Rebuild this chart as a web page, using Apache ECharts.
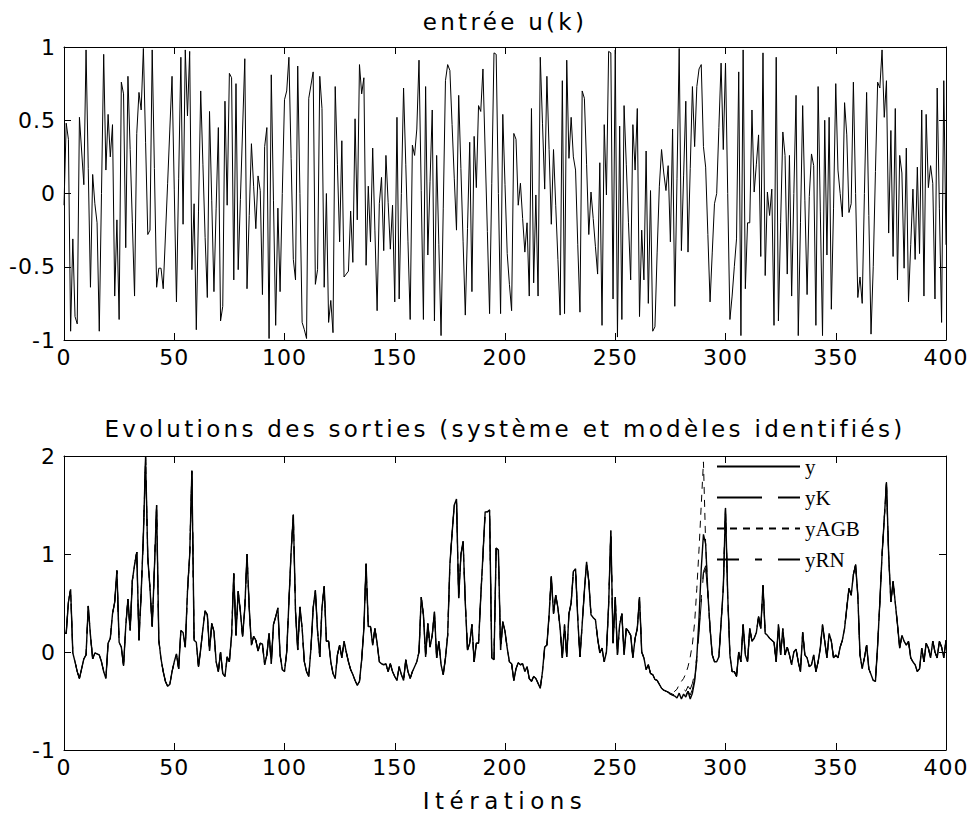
<!DOCTYPE html>
<html>
<head>
<meta charset="utf-8">
<script src="https://cdn.jsdelivr.net/npm/echarts@6/dist/echarts.min.js"></script>
<style>
  html, body { margin: 0; background: #fff; }
  #chart { width: 972px; height: 822px; }
</style>
</head>
<body>
<div id="chart"></div>
<script>
// entrée u(k), k = 0..400
const uk = [
  -0.08,0.48,0.37,-0.94,-0.31,-0.84,-0.89,0.52,0.29,0.06,
  0.98,0.17,-0.64,0.13,-0.07,-0.2,-0.94,0.0,0.95,0.16,
  0.54,0.25,0.47,-0.7,-0.18,-0.86,0.76,0.68,-0.37,0.8,
  0.3,-0.2,-0.7,0.41,0.69,0.57,0.99,0.35,-0.28,-0.25,
  0.98,0.17,-0.64,-0.51,-0.51,-0.65,-0.29,0.07,0.44,0.8,
  0.03,-0.74,0.1,0.93,-0.21,0.98,0.53,0.97,-0.52,-0.07,
  -0.93,-0.12,0.7,0.2,-0.3,-0.71,0.56,-0.05,-0.67,-0.1,
  0.45,-0.87,-0.77,0.63,-0.08,0.82,0.79,-0.59,0.75,-0.52,
  -0.04,0.44,0.92,-0.65,-0.15,0.34,0.05,-0.24,0.12,0.02,
  -0.69,0.32,0.45,-0.99,0.81,-0.05,-0.9,-0.1,-0.67,0.0,
  0.64,0.7,0.93,0.24,-0.45,-0.59,0.87,0.0,-0.88,-0.93,
  -0.99,0.65,0.74,0.83,-0.62,-0.52,0.8,0.58,-0.64,0.0,
  -0.88,-0.73,-0.95,0.73,0.2,-0.33,0.36,-0.57,-0.55,-0.53,
  -0.12,-0.47,0.51,-0.18,0.88,0.68,0.79,-0.49,0.05,-0.33,
  0.31,-0.25,-0.8,-0.07,0.11,-0.39,0.26,-0.06,-0.38,-0.08,
  -0.74,0.52,-0.72,0.0,0.72,0.2,-0.33,-0.86,0.33,0.26,
  0.44,0.91,0.02,-0.86,0.73,-0.42,0.08,0.57,-0.87,0.26,
  -0.35,-0.97,-0.1,0.77,0.88,0.84,0.47,0.1,-0.25,0.67,
  0.17,-0.33,-0.83,-0.24,0.35,-0.67,0.39,0.04,0.6,0.56,
  0.85,0.29,-0.26,-0.82,0.07,0.96,0.95,0.0,-0.82,0.54,
  0.06,-0.41,-0.62,-0.8,0.41,0.37,-0.08,0.07,-0.17,-0.4,
  -0.2,-0.7,0.58,-0.61,-0.01,-0.7,0.93,0.48,0.03,0.8,
  0.3,-0.21,0.3,-0.08,-0.45,-0.83,0.77,-0.82,0.91,0.24,
  0.52,0.25,0.16,-0.35,-0.81,0.7,0.65,0.2,-0.28,0.01,
  -0.17,-0.36,-0.55,0.21,-0.9,0.47,-0.01,0.97,0.96,-0.72,
  0.98,-0.98,0.46,-0.86,0.6,0.2,-0.2,-0.59,0.47,0.16,
  0.58,-0.84,-0.25,-0.59,0.29,-0.75,0.02,-0.94,-0.91,-0.4,
  0.05,0.3,0.14,0.02,0.19,-0.33,0.44,-0.77,0.1,0.99,
  -0.39,0.12,0.63,-0.4,0.17,0.73,0.32,0.73,0.85,0.88,
  0.32,0.18,-0.28,-0.74,-0.4,-0.07,0.0,0.45,0.89,0.3,
  0.89,0.0,-0.86,-0.7,-0.5,-0.31,0.83,-0.97,0.98,-0.65,
  -0.2,-0.2,0.57,0.01,0.2,0.4,-0.43,0.96,-0.56,0.01,
  -0.15,0.03,-0.9,0.93,-0.87,-0.2,0.42,0.26,-0.55,0.26,
  -0.7,0.0,0.67,-0.97,-0.2,0.6,-0.05,-0.69,-0.02,0.27,
  0.19,-0.9,0.73,-0.12,-0.97,0.5,-0.42,0.52,-0.79,-0.1,
  0.75,0.16,0.0,-0.16,0.62,0.4,-0.13,-0.07,0.76,0.0,
  -0.71,-0.57,-0.75,0.0,0.69,-0.15,-0.96,-0.5,0.15,0.76,
  0.72,0.98,0.52,0.77,-0.27,0.43,-0.43,0.58,-0.59,0.26,
  0.14,-0.51,0.31,-0.74,-0.35,0.03,-0.45,0.18,-0.41,0.57,
  -0.7,0.54,0.04,0.19,0.07,-0.72,0.72,-0.1,-0.88,0.77,
  -0.35
];

// sortie du système y(k), k = 0..400
const ySys = [
  0.19,0.19,0.51,0.64,-0.01,-0.1,-0.2,-0.27,-0.17,-0.07,
  -0.03,0.47,0.17,-0.07,-0.01,-0.02,-0.03,-0.1,-0.2,-0.27,
  0.09,0.14,0.39,0.51,0.83,0.1,0.05,-0.14,0.26,0.54,
  0.22,0.73,0.89,1.02,0.12,0.6,1.19,1.99,0.96,0.65,
  0.26,0.85,1.5,0.12,-0.07,-0.2,-0.3,-0.35,-0.33,-0.2,
  -0.1,-0.02,-0.17,0.22,0.2,0.05,0.62,0.99,1.85,0.12,
  0.1,-0.15,0.03,0.24,0.42,0.38,0.01,0.29,0.21,-0.1,
  -0.2,0.0,-0.22,-0.25,-0.05,-0.1,0.17,0.8,0.17,0.62,
  0.41,0.16,0.45,1.0,0.45,0.07,0.16,0.12,0.01,0.09,
  0.08,-0.13,-0.03,0.19,-0.12,0.28,0.36,0.45,-0.03,-0.18,
  -0.2,0.0,0.51,1.02,1.4,0.41,0.02,0.46,0.24,-0.1,
  -0.2,-0.25,0.04,0.45,0.63,0.21,-0.05,0.45,0.67,0.11,
  0.11,-0.1,-0.22,-0.27,-0.03,0.07,-0.06,0.11,0.0,-0.1,
  -0.18,-0.23,-0.29,-0.34,-0.3,-0.08,0.24,0.9,0.26,0.26,
  0.07,0.24,0.09,-0.1,-0.12,-0.13,-0.12,-0.2,-0.12,-0.2,
  -0.25,-0.29,-0.15,-0.23,-0.29,-0.08,-0.2,-0.27,-0.2,-0.15,
  -0.1,0.0,0.56,0.38,-0.05,0.29,0.05,0.17,0.41,-0.06,
  0.11,-0.13,-0.23,-0.06,0.17,0.89,1.21,1.5,1.56,0.55,
  0.99,1.13,0.5,0.02,0.09,0.28,-0.1,0.09,0.09,0.56,
  0.99,1.43,1.43,1.45,-0.06,-0.08,1.06,1.04,0.02,0.31,
  0.21,0.04,-0.1,-0.12,-0.29,-0.17,-0.11,-0.13,-0.12,-0.2,
  -0.15,-0.27,-0.3,-0.25,-0.27,-0.32,-0.37,-0.2,0.05,0.07,
  0.38,0.77,0.39,0.58,0.45,0.24,-0.06,0.28,-0.05,0.39,
  0.5,0.82,0.85,0.34,-0.05,0.28,0.62,0.92,0.72,0.38,
  0.35,0.33,0.14,-0.01,0.04,-0.1,0.0,0.48,1.24,0.09,
  0.56,-0.03,0.28,0.39,-0.03,0.24,0.21,0.17,-0.06,0.14,
  0.24,0.56,0.0,-0.06,-0.18,-0.13,-0.22,-0.23,-0.28,-0.29,
  -0.33,-0.37,-0.39,-0.4,-0.41,-0.43,-0.44,-0.45,-0.47,-0.42,
  -0.48,-0.43,-0.46,-0.4,-0.48,-0.42,-0.3,-0.05,0.35,0.85,
  1.2,1.1,0.6,0.24,-0.03,-0.1,-0.1,-0.05,0.3,0.65,
  1.47,0.58,-0.03,-0.2,-0.2,-0.25,0.0,-0.1,0.28,-0.03,
  -0.1,0.24,0.11,0.14,0.2,0.36,0.24,0.68,0.19,0.17,
  0.14,0.12,0.1,-0.1,0.28,-0.03,0.24,-0.03,0.05,-0.03,
  -0.13,0.0,0.03,-0.1,-0.2,0.2,-0.03,-0.06,-0.15,-0.13,
  -0.03,-0.2,-0.1,0.04,0.28,0.11,-0.06,0.19,0.11,-0.06,
  -0.03,-0.06,0.05,0.12,0.24,0.45,0.65,0.58,0.79,0.89,
  0.58,-0.03,-0.17,-0.06,0.07,-0.17,-0.23,-0.29,-0.3,0.07,
  0.51,0.99,1.36,1.73,0.99,0.51,0.72,0.5,0.28,0.04,
  0.17,0.11,0.07,0.11,-0.06,-0.1,-0.13,-0.2,-0.17,0.04,
  -0.1,0.09,0.04,-0.06,0.11,0.0,-0.06,0.11,0.05,-0.06,
  0.12
];

// the identified models follow y everywhere except around k = 274..293
const modelStart = 274;
const yKPart = [-0.41,-0.43,-0.44,-0.45,-0.46,-0.44,-0.45,-0.42,-0.44,-0.4,
                -0.44,-0.38,-0.28,-0.1,0.2,0.5,0.8,0.85,0.6,0.24];
const yAGBPart = [-0.41,-0.42,-0.42,-0.4,-0.38,-0.33,-0.3,-0.27,-0.22,-0.15,
                  -0.05,0.08,0.3,0.65,1.05,1.5,1.94,1.1,0.6,0.24];
const yRNPart = [-0.41,-0.42,-0.43,-0.44,-0.44,-0.4,-0.42,-0.38,-0.4,-0.35,
                 -0.38,-0.32,-0.22,-0.05,0.25,0.55,0.82,0.88,0.6,0.24];

const titleTop = "entrée u(k)";
const titleBottom = "Evolutions des sorties (système et modèles identifiés)";
const xName = "Itérations";
const fontMain = "DejaVu Sans";

function withModel(part) {
  return ySys.map((v, i) => {
    const j = i - modelStart;
    return j >= 0 && j < part.length ? part[j] : v;
  });
}
function pairs(arr) {
  return arr.map((v, i) => [i, v]);
}

function xAx(grid, pos, labels, extra) {
  return Object.assign({
    type: "value", gridIndex: grid, position: pos,
    min: 0, max: 400, interval: 50,
    axisLine: { show: true, onZero: false, lineStyle: { color: "#000", width: 1 } },
    axisTick: { show: true, inside: true, length: 7, lineStyle: { color: "#000" } },
    axisLabel: { show: labels, color: "#000", fontFamily: fontMain, fontSize: 22, margin: 6 },
    splitLine: { show: false },
  }, extra || {});
}
function yAx(grid, pos, labels, min, max, step) {
  return {
    type: "value", gridIndex: grid, position: pos,
    min: min, max: max, interval: step,
    axisLine: { show: true, onZero: false, lineStyle: { color: "#000", width: 1 } },
    axisTick: { show: true, inside: true, length: 7, lineStyle: { color: "#000" } },
    axisLabel: { show: labels, color: "#000", fontFamily: fontMain, fontSize: 22, margin: 8 },
    splitLine: { show: false },
  };
}

const titleStyle = { fontFamily: fontMain, fontSize: 23, fontWeight: "normal", color: "#000" };

const chart = echarts.init(document.getElementById("chart"), null, { renderer: "svg" });
chart.setOption({
  animation: false,
  backgroundColor: "#fff",
  title: [
    { text: titleTop, left: 505, top: 10, textAlign: "center", padding: 0, textStyle: titleStyle },
    { text: titleBottom, left: 505, top: 417, textAlign: "center", padding: 0, textStyle: titleStyle },
  ],
  grid: [
    { left: 64, top: 47, width: 882, height: 293 },
    { left: 64, top: 456, width: 882, height: 294 },
  ],
  xAxis: [
    xAx(0, "bottom", true),
    xAx(0, "top", false),
    xAx(1, "bottom", true, {
      name: xName, nameLocation: "middle", nameGap: 39,
      nameTextStyle: { fontFamily: fontMain, fontSize: 23, color: "#000" },
    }),
    xAx(1, "top", false),
  ],
  yAxis: [
    yAx(0, "left", true, -1, 1, 0.5),
    yAx(0, "right", false, -1, 1, 0.5),
    yAx(1, "left", true, -1, 2, 1),
    yAx(1, "right", false, -1, 2, 1),
  ],
  legend: {
    orient: "vertical", left: 716, top: 456, padding: 0,
    itemWidth: 83, itemHeight: 14, itemGap: 10, selectedMode: false,
    itemStyle: { opacity: 0 },
    data: ["y", "yK", "yAGB", "yRN"],
    textStyle: { fontFamily: "Liberation Serif", fontSize: 21, color: "#000" },
  },
  series: [
    { name: "u", type: "line", xAxisIndex: 0, yAxisIndex: 0, symbol: "none",
      lineStyle: { color: "#000", width: 1 }, data: pairs(uk) },
    { name: "yK", type: "line", xAxisIndex: 2, yAxisIndex: 2, symbol: "none",
      lineStyle: { color: "#000", width: 1, type: [45, 16] }, itemStyle: { color: "#000" },
      data: pairs(withModel(yKPart)) },
    { name: "yRN", type: "line", xAxisIndex: 2, yAxisIndex: 2, symbol: "none",
      lineStyle: { color: "#000", width: 1, type: [22, 16, 7, 16] }, itemStyle: { color: "#000" },
      data: pairs(withModel(yRNPart)) },
    { name: "yAGB", type: "line", xAxisIndex: 2, yAxisIndex: 2, symbol: "none",
      lineStyle: { color: "#000", width: 1, type: [7, 6] }, itemStyle: { color: "#000" },
      data: pairs(withModel(yAGBPart)) },
    { name: "y", type: "line", xAxisIndex: 2, yAxisIndex: 2, symbol: "none",
      lineStyle: { color: "#000", width: 1.4 }, itemStyle: { color: "#000" },
      data: pairs(ySys) },
  ],
});

// the original titles are spaced out wider than the font's default advance
function spaceTitles() {
  document.querySelectorAll("#chart svg text").forEach((t) => {
    const s = t.textContent;
    if (s === titleTop || s === titleBottom) {
      t.style.letterSpacing = "3.3px";
    } else if (s === xName) {
      t.style.letterSpacing = "5.5px";
    } else if (/^-?[0-9.]+$/.test(s)) {
      t.style.letterSpacing = "1px";
    }
  });
}
spaceTitles();
chart.on("finished", spaceTitles);
</script>
</body>
</html>
